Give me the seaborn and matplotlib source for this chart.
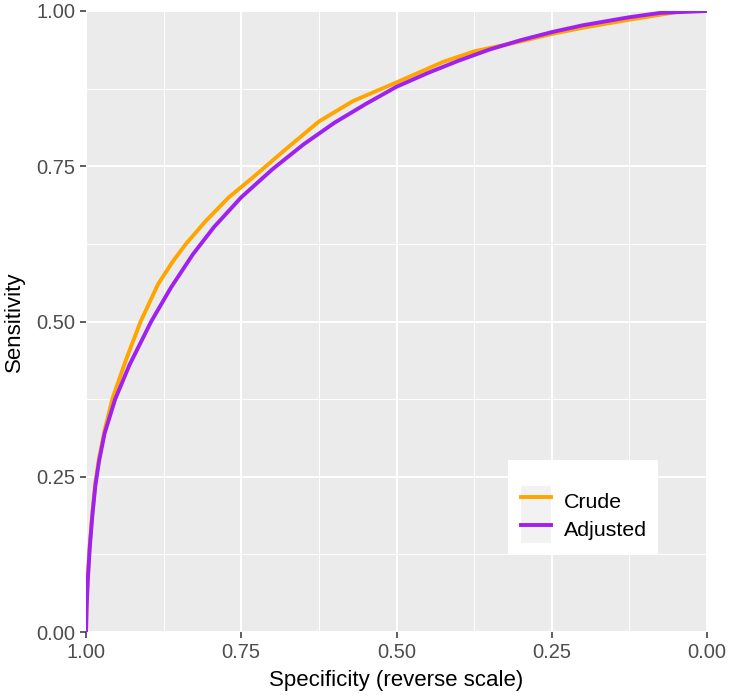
import numpy as np
import pandas as pd
import matplotlib
matplotlib.use("Agg")
import matplotlib.pyplot as plt
import seaborn as sns
from matplotlib.lines import Line2D
from matplotlib.patches import Patch, Rectangle
from matplotlib.legend_handler import HandlerTuple

# values (1 - specificity, sensitivity)
crude_fpr = [0.0, 0.001, 0.003, 0.006, 0.01, 0.015, 0.021, 0.03, 0.043, 0.065,
             0.088, 0.116, 0.14, 0.161, 0.193, 0.23, 0.27, 0.32, 0.375, 0.43,
             0.50, 0.575, 0.625, 0.70, 0.75, 0.80, 0.875, 0.925, 0.96, 1.0]
crude_sens = [0.0, 0.045, 0.09, 0.14, 0.19, 0.24, 0.28, 0.325, 0.377, 0.44,
              0.50, 0.56, 0.597, 0.625, 0.662, 0.70, 0.733, 0.776, 0.822, 0.855,
              0.885, 0.918, 0.935, 0.951, 0.963, 0.973, 0.986, 0.994, 1.0, 1.0]

adj_fpr = [0.0, 0.001, 0.003, 0.006, 0.01, 0.015, 0.021, 0.03, 0.047, 0.07,
           0.105, 0.137, 0.172, 0.206, 0.25, 0.30, 0.35, 0.40, 0.45, 0.50,
           0.55, 0.60, 0.65, 0.70, 0.75, 0.80, 0.875, 0.925, 1.0]
adj_sens = [0.0, 0.04, 0.085, 0.135, 0.185, 0.235, 0.275, 0.32, 0.375, 0.43,
            0.50, 0.555, 0.608, 0.652, 0.70, 0.745, 0.785, 0.82, 0.85, 0.878,
            0.90, 0.92, 0.938, 0.953, 0.966, 0.977, 0.99, 0.997, 1.0]

models = ["Crude", "Adjusted"]
colors = {"Crude": "#FFA500", "Adjusted": "#A020F0"}
ticks = [1.00, 0.75, 0.50, 0.25, 0.00]

df = pd.concat([
    pd.DataFrame({"specificity": 1 - np.array(crude_fpr), "sensitivity": crude_sens, "model": "Crude"}),
    pd.DataFrame({"specificity": 1 - np.array(adj_fpr), "sensitivity": adj_sens, "model": "Adjusted"}),
])

plt.rcParams["font.family"] = ["Liberation Sans", "DejaVu Sans"]

fig = plt.figure(figsize=(7.3, 6.96), dpi=100)
ax = fig.add_axes([86 / 730, 64 / 696, 621 / 730, 621 / 696])
ax.set_facecolor("#EBEBEB")

sns.lineplot(data=df, x="specificity", y="sensitivity", hue="model",
             hue_order=models, palette=colors, estimator=None, sort=False,
             linewidth=2.8, legend=False, ax=ax)

ax.set_xlim(1, 0)
ax.set_ylim(0, 1)
ax.set_xticks(ticks)
ax.set_yticks(ticks)
ax.set_xticklabels([f"{t:.2f}" for t in ticks])
ax.set_yticklabels([f"{t:.2f}" for t in ticks])
minor = [0.125, 0.375, 0.625, 0.875]
ax.set_xticks(minor, minor=True)
ax.set_yticks(minor, minor=True)
ax.grid(which="major", color="white", linewidth=1.4)
ax.grid(which="minor", color="white", linewidth=0.7)
ax.set_axisbelow(True)
for s in ax.spines.values():
    s.set_visible(False)
ax.tick_params(which="major", length=4.2, width=1.1, color="#333333",
               labelcolor="#4D4D4D", labelsize=14.5, pad=3.5)
ax.tick_params(which="minor", length=0)

ax.set_xlabel("Specificity (reverse scale)", fontsize=16, color="black", labelpad=6)
ax.set_ylabel("Sensitivity", fontsize=16, color="black", labelpad=8)

# legend: white box drawn by hand, entries with grey key backgrounds
ax.add_patch(Rectangle((0.6795, 0.124), 0.2415, 0.153, transform=ax.transAxes,
                       facecolor="white", edgecolor="none", zorder=4))
handles = [(Patch(facecolor="#F2F2F2", edgecolor="none"),
            Line2D([], [], color=colors[m], linewidth=2.8)) for m in models]
leg = ax.legend(handles, models, handler_map={tuple: HandlerTuple(ndivide=1, pad=0)},
                loc="center left", bbox_to_anchor=(0.7005, 0.189), fontsize=15.4,
                frameon=False, handlelength=1.4, handleheight=1.65,
                labelspacing=0, handletextpad=0.6, borderpad=0, borderaxespad=0)
leg.set_zorder(5)

fig.savefig("out.png", dpi=100)
